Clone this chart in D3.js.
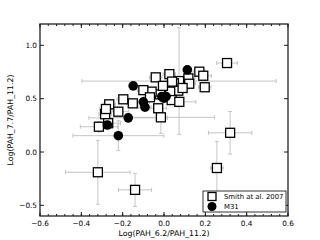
<!DOCTYPE html>
<html>
<head>
<meta charset="utf-8">
<script src="https://cdn.jsdelivr.net/npm/d3@7"></script>
<style>
  body { margin: 0; background: #fff; }
  svg { display: block; font-family: "DejaVu Sans", sans-serif; }
</style>
</head>
<body>
<div id="chart"></div>
<script>
// Smith at al. 2007 (open squares)
const smithX    = [0.305, 0.32, 0.256, -0.32, -0.14, 0.026, -0.04, 0.171, 0.19, 0.197, 0.118, 0.073, 0.048, 0.122, 0.069, 0.03, -0.019, -0.06, -0.1, -0.068, 0.037, 0.074, -0.028, -0.015, -0.197, -0.151, -0.265, -0.221, -0.285, -0.281, -0.315, -0.27, 0.039, 0.09, -0.005];
const smithY    = [0.834, 0.18, -0.15, -0.19, -0.355, 0.73, 0.70, 0.753, 0.715, 0.607, 0.69, 0.665, 0.644, 0.64, 0.575, 0.566, 0.54, 0.566, 0.58, 0.513, 0.487, 0.47, 0.41, 0.325, 0.494, 0.456, 0.447, 0.378, 0.354, 0.403, 0.237, 0.27, 0.66, 0.60, 0.62];
const smithXErr = [0.05, 0.105, 0.03, 0.156, 0.08, 0.03, 0.03, 0.03, 0.04, 0.03, 0.03, 0.47, 0.02, 0.03, 0.03, 0.02, 0.03, 0.02, 0.03, 0.03, 0.02, 0.08, 0.04, 0.26, 0.03, 0.03, 0.03, 0.05, 0.03, 0.03, 0.09, 0.06, 0.03, 0.03, 0.02];
const smithYErr = [0.03, 0.2, 0.25, 0.3, 0.155, 0.04, 0.03, 0.03, 0.03, 0.03, 0.03, 0.5, 0.03, 0.03, 0.04, 0.03, 0.03, 0.03, 0.04, 0.03, 0.03, 0.04, 0.04, 0.15, 0.03, 0.03, 0.03, 0.04, 0.03, 0.03, 0.05, 0.03, 0.03, 0.03, 0.03];

// M31 (filled circles)
const m31X    = [-0.149, -0.10, -0.092, -0.173, -0.274, -0.221, -0.011, 0.01, 0.0, 0.113];
const m31Y    = [0.62, 0.47, 0.42, 0.32, 0.253, 0.153, 0.52, 0.52, 0.505, 0.77];
const m31XErr = [0.02, 0.03, 0.03, 0.19, 0.02, 0.22, 0.03, 0.03, 0.02, 0.02];
const m31YErr = [0.03, 0.03, 0.03, 0.04, 0.03, 0.14, 0.03, 0.03, 0.03, 0.03];

const xTicks = [-0.6, -0.4, -0.2, 0.0, 0.2, 0.4, 0.6];
const yTicks = [-0.5, 0.0, 0.5, 1.0];
const legendLabels = ["Smith at al. 2007", "M31"];

const W = 320, H = 240;
const margin = { top: 24, right: 32, bottom: 24, left: 40 };
const width = W - margin.left - margin.right;
const height = H - margin.top - margin.bottom;

const svg = d3.select("#chart").append("svg")
    .attr("width", W)
    .attr("height", H);

const g = svg.append("g")
    .attr("transform", `translate(${margin.left},${margin.top})`);

const x = d3.scaleLinear().domain([-0.6, 0.6]).range([0, width]);
const y = d3.scaleLinear().domain([-0.6, 1.2]).range([height, 0]);

const fmt = d => d3.format(".1f")(d).replace("-", "\u2212");
const minorX = d3.range(-0.6, 0.6001, 0.04).map(d => +d.toFixed(2));

// clip for data
g.append("clipPath").attr("id", "clip")
  .append("rect").attr("width", width).attr("height", height);
const data = g.append("g").attr("clip-path", "url(#clip)");

// error bars
function errorBars(xs, ys, xe, ye) {
    const eb = data.append("g").attr("stroke", "#c4c4c4").attr("stroke-width", 1).attr("fill", "none");
    xs.forEach((xv, i) => {
        const cx = x(xv), cy = y(ys[i]);
        const x0 = x(xv - xe[i]), x1 = x(xv + xe[i]);
        const y0 = y(ys[i] - ye[i]), y1 = y(ys[i] + ye[i]);
        eb.append("line").attr("x1", x0).attr("x2", x1).attr("y1", cy).attr("y2", cy);
        eb.append("line").attr("x1", cx).attr("x2", cx).attr("y1", y0).attr("y2", y1);
        [x0, x1].forEach(px => eb.append("line").attr("x1", px).attr("x2", px).attr("y1", cy - 2).attr("y2", cy + 2));
        [y0, y1].forEach(py => eb.append("line").attr("x1", cx - 2).attr("x2", cx + 2).attr("y1", py).attr("y2", py));
    });
}
errorBars(smithX, smithY, smithXErr, smithYErr);
errorBars(m31X, m31Y, m31XErr, m31YErr);

// squares
data.selectAll(".sq").data(smithX).enter().append("rect")
    .attr("x", (d, i) => x(d) - 4.5)
    .attr("y", (d, i) => y(smithY[i]) - 4.5)
    .attr("width", 9).attr("height", 9)
    .attr("fill", "#fff").attr("stroke", "#000").attr("stroke-width", 1.3);

// circles
data.selectAll(".ci").data(m31X).enter().append("circle")
    .attr("cx", d => x(d))
    .attr("cy", (d, i) => y(m31Y[i]))
    .attr("r", 4.8)
    .attr("fill", "#000");

// ticks (inward, all sides)
const tk = g.append("g").attr("stroke", "#000").attr("stroke-width", 0.9);
xTicks.forEach(d => {
    tk.append("line").attr("x1", x(d)).attr("x2", x(d)).attr("y1", height).attr("y2", height - 4);
    tk.append("line").attr("x1", x(d)).attr("x2", x(d)).attr("y1", 0).attr("y2", 4);
});
minorX.forEach(d => {
    tk.append("line").attr("x1", x(d)).attr("x2", x(d)).attr("y1", height).attr("y2", height - 2);
    tk.append("line").attr("x1", x(d)).attr("x2", x(d)).attr("y1", 0).attr("y2", 2);
});
yTicks.forEach(d => {
    tk.append("line").attr("x1", 0).attr("x2", 4).attr("y1", y(d)).attr("y2", y(d));
    tk.append("line").attr("x1", width).attr("x2", width - 4).attr("y1", y(d)).attr("y2", y(d));
});

// frame
g.append("rect").attr("width", width).attr("height", height)
    .attr("fill", "none").attr("stroke", "#222").attr("stroke-width", 1.3);

// tick labels
g.selectAll(".xl").data(xTicks).enter().append("text")
    .attr("x", d => x(d)).attr("y", height + 10)
    .attr("text-anchor", "middle").style("font-size", "7.3px")
    .text(fmt);
g.selectAll(".yl").data(yTicks).enter().append("text")
    .attr("x", -3).attr("y", d => y(d) + 2.5)
    .attr("text-anchor", "end").style("font-size", "7.3px")
    .text(fmt);

// axis labels
g.append("text")
    .attr("x", width / 2).attr("y", height + 19.5)
    .attr("text-anchor", "middle").style("font-size", "7.8px")
    .text("Log(PAH_6.2/PAH_11.2)");
g.append("text")
    .attr("transform", `translate(${-27},${height / 2}) rotate(-90)`)
    .attr("text-anchor", "middle").style("font-size", "7.8px")
    .text("Log(PAH_7.7/PAH_11.2)");

// legend
const lg = g.append("g").attr("transform", `translate(${width - 85},${height - 25})`);
lg.append("rect").attr("width", 83).attr("height", 21)
    .attr("fill", "#fff").attr("stroke", "#000").attr("stroke-width", 0.8);
lg.append("rect").attr("x", 5).attr("y", 1.5).attr("width", 8).attr("height", 8)
    .attr("fill", "#fff").attr("stroke", "#000").attr("stroke-width", 1.3);
lg.append("circle").attr("cx", 9).attr("cy", 15.5).attr("r", 4.5).attr("fill", "#000");
legendLabels.forEach((t, i) => {
    lg.append("text").attr("x", 21).attr("y", 8.3 + i * 10)
        .style("font-size", "6.9px").text(t);
});
</script>
</body>
</html>
